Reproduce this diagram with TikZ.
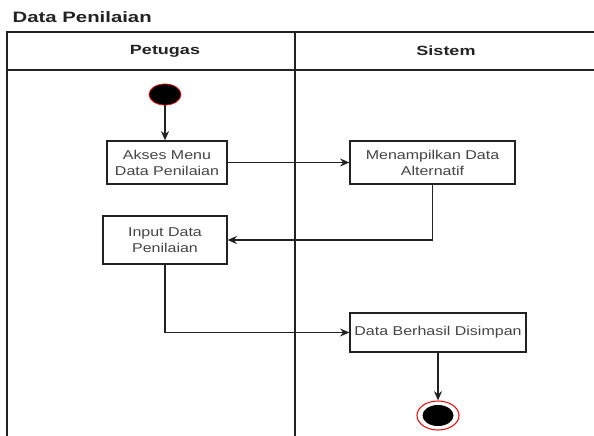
\documentclass[tikz,border=0pt]{standalone}
\usepackage{fontspec}
\setmainfont{Liberation Sans}
\newfontfamily\boxfont[FakeStretch=1.25]{Liberation Sans}
\newfontfamily\headfont[FakeStretch=1.35]{Liberation Sans}
\usetikzlibrary{arrows.meta,shapes.geometric}
\definecolor{linegray}{HTML}{222222}
\definecolor{textgray}{HTML}{444444}
\definecolor{ringred}{HTML}{E01010}
\begin{document}
\begin{tikzpicture}[x=0.75pt,y=-0.75pt,
  lane/.style={draw=linegray,line width=1pt},
  actbox/.style={draw=linegray,line width=0.9pt,rectangle,inner sep=0pt,align=center,
    text=textgray,font=\boxfont\fontsize{9.6pt}{12pt}\selectfont},
  lanehead/.style={font=\headfont\bfseries\fontsize{10pt}{11pt}\selectfont,text=linegray},
  flow/.style={draw=linegray,line width=0.9pt,-{Stealth[length=7pt,width=6pt]}},
  startdot/.style={ellipse,fill=black,draw=ringred,line width=0.6pt,inner sep=0pt,
    minimum width=24pt,minimum height=15.75pt},
  endring/.style={ellipse,fill=white,draw=ringred,line width=0.8pt,inner sep=0pt,
    minimum width=31.5pt,minimum height=21.75pt},
  enddot/.style={ellipse,fill=black,inner sep=0pt,minimum width=23.25pt,minimum height=15.75pt}]
\useasboundingbox (0,0) rectangle (594,436);

% title
\node[anchor=west,font=\headfont\bfseries\fontsize{11.3pt}{13pt}\selectfont,text=linegray]
  (title) at (8,17.5) {Data Penilaian};

% swimlane frame
\draw[lane] (7,436) -- (7,32) -- (596,32);
\draw[lane] (7,70) -- (596,70);
\draw[lane] (295,32) -- (295,436);
\node[lanehead] (petugas) at (165,51) {Petugas};
\node[lanehead] (sistem) at (446,51) {Sistem};

% activities
\node[startdot] (start) at (165,94.5) {};
\node[actbox,minimum width=90pt,minimum height=32.25pt] (akses) at (167,162.5)
  {Akses Menu\\Data Penilaian};
\node[actbox,minimum width=123.75pt,minimum height=32.25pt] (tampil) at (432.5,162.5)
  {Menampilkan Data\\Alternatif};
\node[actbox,minimum width=93pt,minimum height=36pt] (input) at (165,240)
  {Input Data\\Penilaian};
\node[actbox,minimum width=132pt,minimum height=29.25pt] (simpan) at (438,332.5)
  {Data Berhasil Disimpan};
\node[endring] (finish) at (438,415.5) {};
\node[enddot] (finishdot) at (finish.center) {};

% control flow
\draw[flow] (start.south) -- (start.south |- akses.north);
\draw[flow] (akses.east) -- (tampil.west);
\draw[flow] (tampil.south) |- (input.east);
\draw[flow] (input.south) |- (simpan.west);
\draw[flow] (simpan.south) -- (finish.north);
\end{tikzpicture}
\end{document}
